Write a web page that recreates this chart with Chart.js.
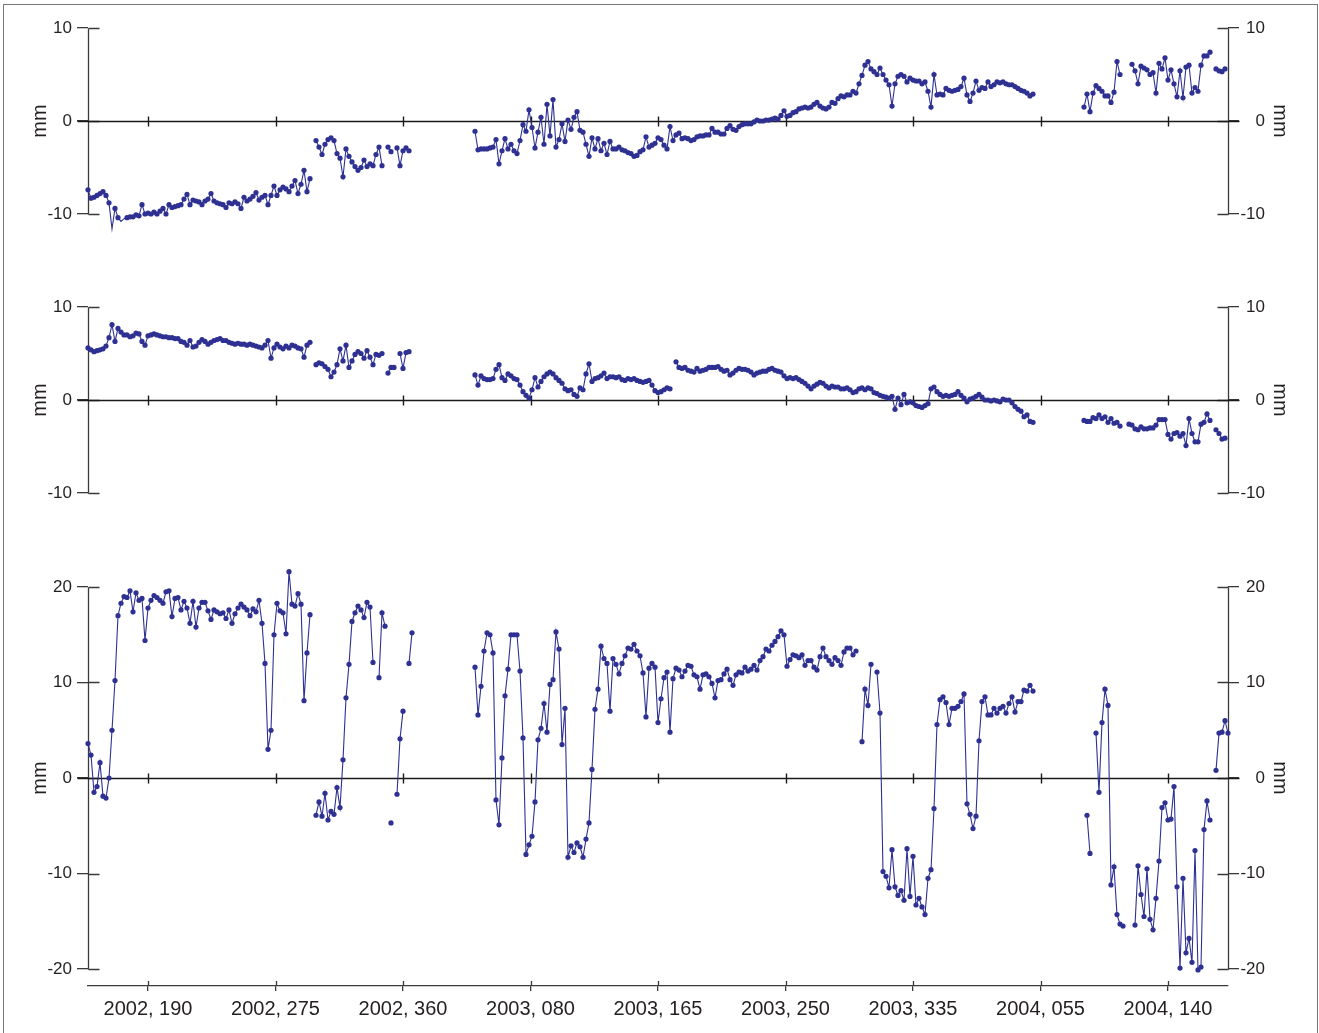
<!DOCTYPE html>
<html>
<head>
<meta charset="utf-8">
<title>Daily coordinate series</title>
<script src="https://cdn.jsdelivr.net/npm/chart.js@4.4.1/dist/chart.umd.min.js"></script>
<style>
  body { margin: 0; background: #fff; overflow: hidden; }
  #frame { position: absolute; left: 3px; top: 4px; width: 1313px; height: 1100px; border: 1px solid #777; }
  canvas { position: absolute; left: 0; }
</style>
</head>
<body>
<div id="frame"></div>
<canvas id="panelTop" width="1319" height="250" style="top:0px"></canvas>
<canvas id="panelMiddle" width="1319" height="250" style="top:270px"></canvas>
<canvas id="panelBottom" width="1319" height="483" style="top:550px"></canvas>
<script>
// Days are counted from the start of 2002 (2003 adds 365, 2004 adds 730).
// One value every second day, null where there is no solution.
var firstDay = 150;
var dayStep = 2;

var xTickDays = [190, 275, 360, 445, 530, 615, 700, 785, 870];
var xTickLabels = ['2002, 190', '2002, 275', '2002, 360', '2003, 080', '2003, 165',
                   '2003, 250', '2003, 335', '2004, 055', '2004, 140'];

var yTicksSmall = [-10, 0, 10];
var yTicksLarge = [-20, -10, 0, 10, 20];

var topValues = [
  -7.4, -8.3, -8.2, -8.0, -7.8, -7.6, -8.0, -8.8, -11.6, -9.4,
  -10.4, -10.8, -10.5, -10.4, -10.3, -10.3, -10.1, -10.2, -9.0, -10.0,
  -9.9, -10.0, -9.8, -10.0, -9.7, -9.4, -10.0, -9.0, -9.3, -9.2,
  -9.1, -9.0, -8.4, -7.9, -9.0, -8.5, -8.6, -8.7, -9.0, -8.6,
  -8.4, -7.8, -8.6, -8.8, -8.9, -9.0, -9.3, -8.8, -8.9, -8.7,
  -8.9, -9.4, -8.2, -8.6, -8.4, -8.1, -7.7, -8.5, -8.2, -8.0,
  -9.0, -8.0, -7.0, -8.0, -7.4, -7.1, -7.3, -7.6, -7.0, -6.4,
  -7.8, -6.8, -5.3, -7.6, -6.2, null, -2.1, -2.8, -3.6, -2.5,
  -2.0, -1.8, -2.1, -3.5, -4.0, -6.0, -3.0, -3.8, -4.4, -4.9,
  -5.3, -5.0, -4.2, -4.9, -4.6, -4.8, -3.6, -2.8, -4.8, null,
  -2.8, -3.3, null, -2.9, -4.8, -3.2, -2.9, -3.2, null, null,
  null, null, null, null, null, null, null, null, null, null,
  null, null, null, null, null, null, null, null, null, -1.1,
  -3.1, -3.0, -3.0, -3.0, -2.9, -2.8, -2.0, -4.6, -3.2, -1.9,
  -3.0, -2.5, -3.2, -3.5, -2.1, -0.4, -1.1, 1.2, -0.7, -2.9,
  -1.2, 0.4, -2.5, 1.8, -1.6, 2.3, -2.8, -2.0, -0.3, -2.2,
  0.1, -0.9, 0.4, 1.0, -1.0, -1.2, -2.5, -3.8, -1.8, -3.0,
  -1.9, -3.2, -2.4, -3.6, -2.2, -3.0, -3.0, -2.8, -3.1, -3.2,
  -3.4, -3.5, -3.8, -3.7, -3.3, -3.1, -1.7, -2.8, -2.6, -2.4,
  -1.8, -2.0, -2.6, -3.0, -0.6, -2.1, -1.5, -1.3, -1.9, -1.8,
  -1.9, -2.1, -2.0, -1.7, -1.6, -1.6, -1.5, -1.5, -0.8, -1.2,
  -1.2, -1.4, -1.4, -0.8, -0.5, -0.9, -1.0, -0.6, -0.4, -0.3,
  -0.3, -0.3, -0.1, 0.1, 0.0, 0.0, 0.1, 0.1, 0.2, 0.3,
  0.2, 0.6, 1.1, 0.5, 0.6, 0.9, 1.0, 1.3, 1.4, 1.5,
  1.4, 1.5, 1.8, 2.0, 1.6, 1.4, 1.3, 1.5, 2.0, 1.9,
  2.4, 2.7, 2.6, 2.8, 2.8, 3.2, 3.0, 4.0, 4.9, 6.0,
  6.4, 5.6, 5.3, 5.0, 5.7, 5.0, 4.4, 3.9, 1.6, 4.0,
  4.8, 5.0, 4.8, 4.2, 4.6, 4.4, 4.3, 4.3, 4.0, 4.2,
  3.2, 1.5, 5.0, 2.8, 2.9, 2.8, 3.5, 3.3, 3.2, 3.3,
  3.4, 3.7, 4.6, 2.8, 2.1, 3.0, 4.3, 3.3, 3.6, 3.5,
  4.2, 3.7, 3.9, 4.2, 4.1, 4.2, 4.0, 3.9, 3.9, 3.7,
  3.5, 3.3, 3.2, 3.0, 2.7, 2.9, null, null, null, null,
  null, null, null, null, null, null, null, null, null, null,
  null, null, 1.5, 2.9, 1.0, 3.0, 3.8, 3.5, 3.2, 2.7,
  2.7, 2.0, 3.1, 6.4, 5.0, null, null, null, 6.1, 5.4,
  4.0, 5.9, 5.7, 5.5, 5.0, 5.2, 3.0, 6.2, 5.6, 6.8,
  4.4, 5.5, 4.0, 2.6, 5.4, 2.5, 5.8, 6.0, 3.0, 3.6,
  3.2, 6.0, 7.0, 7.0, 7.4, null, 5.6, 5.4, 5.3, 5.6,
  null
];

var middleValues = [
  5.6, 5.4, 5.2, 5.3, 5.4, 5.5, 5.8, 6.7, 8.1, 6.3,
  7.7, 7.3, 7.0, 7.0, 6.8, 6.9, 7.2, 7.1, 6.3, 5.9,
  6.9, 7.0, 7.1, 7.0, 6.9, 6.8, 6.8, 6.7, 6.7, 6.6,
  6.6, 6.3, 6.2, 5.9, 6.4, 5.7, 5.8, 6.2, 6.5, 6.3,
  6.0, 6.2, 6.4, 6.5, 6.6, 6.4, 6.4, 6.2, 6.1, 6.0,
  6.1, 6.0, 6.0, 5.9, 6.0, 5.9, 5.8, 5.7, 5.6, 5.9,
  6.4, 4.5, 5.6, 6.0, 5.7, 5.5, 5.8, 5.6, 5.9, 5.8,
  5.6, 5.5, 4.6, 5.9, 6.2, null, 3.8, 4.0, 3.9, 3.6,
  3.3, 2.5, 3.0, 3.8, 5.5, 4.2, 5.9, 3.5, 4.2, 4.9,
  5.2, 5.0, 4.5, 5.3, 4.6, 3.8, 4.9, 4.8, 5.0, null,
  2.9, 3.5, 3.5, null, 5.0, 3.4, 5.1, 5.2, null, null,
  null, null, null, null, null, null, null, null, null, null,
  null, null, null, null, null, null, null, null, null, 2.7,
  1.6, 2.6, 2.3, 2.2, 2.2, 2.3, 3.3, 3.8, 2.4, 2.1,
  2.8, 2.6, 2.3, 2.2, 1.6, 0.9, 0.5, 0.2, 1.1, 2.4,
  1.4, 2.0, 2.5, 2.8, 3.0, 2.8, 2.4, 2.1, 1.8, 1.2,
  1.0, 1.1, 0.6, 0.4, 1.3, 1.1, 2.8, 3.9, 2.0, 2.3,
  2.4, 2.6, 2.9, 2.3, 2.5, 2.5, 2.4, 2.5, 2.2, 2.1,
  2.3, 2.2, 2.3, 2.1, 2.0, 1.9, 2.0, 2.1, 1.6, 1.0,
  0.8, 0.9, 1.1, 1.3, 1.2, null, 4.1, 3.5, 3.4, 3.5,
  3.2, 3.1, 3.0, 3.4, 3.1, 3.2, 3.3, 3.5, 3.5, 3.5,
  3.6, 3.3, 3.1, 3.2, 2.7, 2.9, 3.2, 3.4, 3.3, 3.3,
  3.2, 3.0, 2.7, 2.9, 3.0, 3.1, 3.1, 3.3, 3.4, 3.2,
  3.1, 3.0, 2.6, 2.3, 2.4, 2.3, 2.4, 2.2, 2.0, 1.8,
  1.5, 1.2, 1.5, 1.7, 1.9, 1.8, 1.5, 1.3, 1.5, 1.4,
  1.4, 1.2, 1.2, 1.3, 1.1, 0.8, 0.9, 1.2, 1.3, 1.1,
  1.3, 1.2, 0.8, 0.7, 0.5, 0.4, 0.3, 0.2, 0.4, -1.0,
  0.2, -0.5, 0.6, -0.3, -0.2, -0.3, -0.6, -0.7, -0.8, -0.6,
  -0.4, 1.2, 1.4, 0.9, 0.6, 0.4, 0.5, 0.4, 0.5, 0.6,
  0.9, 0.5, 0.2, -0.2, 0.1, 0.2, 0.4, 0.6, 0.3, 0.0,
  0.0, -0.1, 0.0, -0.1, -0.2, 0.1, 0.0, 0.0, -0.3, -0.7,
  -1.0, -1.2, -1.8, -1.6, -2.3, -2.4, null, null, null, null,
  null, null, null, null, null, null, null, null, null, null,
  null, null, -2.2, -2.3, -2.3, -1.9, -2.0, -1.6, -2.0, -1.8,
  -2.4, -2.0, -2.5, -2.4, -2.8, null, null, -2.6, -2.7, -3.1,
  -3.2, -2.9, -3.1, -3.1, -3.0, -3.0, -2.7, -2.1, -2.1, -2.1,
  -3.7, -4.2, -3.6, -3.5, -3.9, -3.6, -4.9, -2.0, -3.6, -4.5,
  -4.5, -2.6, -2.4, -1.5, -2.2, null, -3.2, -3.6, -4.2, -4.1,
  null
];

var bottomValues = [
  3.6, 2.4, -1.5, -0.9, 1.6, -1.9, -2.1, 0.0, 5.0, 10.2,
  17.0, 18.3, 19.0, 18.9, 19.6, 17.4, 19.4, 18.6, 18.8, 14.4,
  17.8, 18.6, 19.1, 18.9, 18.6, 18.3, 19.5, 19.6, 16.9, 18.8,
  18.9, 17.6, 18.5, 17.8, 16.2, 18.5, 15.8, 17.8, 18.4, 18.4,
  17.5, 16.6, 17.6, 17.4, 17.2, 17.3, 16.7, 17.6, 16.2, 17.2,
  17.8, 18.2, 17.9, 17.6, 17.0, 17.7, 17.4, 18.6, 16.2, 12.0,
  3.0, 5.0, 15.0, 18.3, 17.5, 17.3, 15.1, 21.6, 18.2, 18.0,
  19.3, 18.2, 8.1, 13.1, 17.1, null, -3.9, -2.5, -4.0, -1.6,
  -4.4, -3.5, -3.8, -1.0, -3.1, 1.9, 8.4, 11.9, 16.4, 17.3,
  18.0, 17.6, 16.8, 18.4, 17.9, 12.1, null, 10.5, 17.3, 15.9,
  null, -4.7, null, -1.7, 4.1, 7.0, null, 12.0, 15.2, null,
  null, null, null, null, null, null, null, null, null, null,
  null, null, null, null, null, null, null, null, null, 11.6,
  6.6, 9.6, 13.3, 15.2, 15.0, 13.1, -2.3, -4.9, 2.1, 8.6,
  11.4, 15.0, 15.0, 15.0, 11.2, 4.2, -8.0, -7.0, -6.1, -2.5,
  4.0, 5.2, 7.8, 4.8, 9.8, 10.3, 15.3, 13.5, 3.5, 7.3,
  -8.3, -7.1, -7.8, -6.8, -7.2, -8.3, -6.4, -4.7, 0.9, 7.2,
  9.3, 13.8, 12.5, 12.0, 7.0, 12.5, 11.9, 10.9, 12.0, 12.8,
  13.6, 13.5, 14.0, 13.3, 12.8, 11.0, 6.4, 11.5, 12.0, 11.6,
  5.8, 8.3, 10.5, 11.1, 4.8, 10.4, 11.5, 11.3, 10.6, 11.2,
  11.8, 11.7, 10.8, 10.6, 9.3, 10.8, 10.9, 10.6, 9.9, 8.4,
  10.2, 10.3, 10.9, 11.4, 10.3, 9.7, 10.8, 11.1, 11.0, 11.6,
  11.2, 11.4, 11.8, 11.3, 12.3, 12.7, 13.5, 13.3, 13.9, 14.3,
  14.8, 15.4, 15.0, 11.7, 12.4, 12.9, 12.8, 12.6, 12.9, 11.8,
  12.3, 12.3, 11.6, 11.3, 12.7, 13.6, 12.7, 12.3, 11.9, 12.6,
  12.3, 11.8, 13.2, 13.6, 13.6, 12.9, 13.3, null, 3.8, 9.3,
  7.6, 11.9, null, 11.1, 6.8, -9.8, -10.3, -11.5, -7.5, -11.4,
  -12.3, -11.8, -12.8, -7.4, -12.4, -8.2, -13.3, -12.6, -13.5, -14.3,
  -10.5, -9.6, -3.2, 5.6, 8.2, 8.5, 7.9, 5.6, 7.3, 7.3,
  7.5, 8.0, 8.8, -2.7, -3.8, -5.3, -4.0, 3.9, 8.0, 8.5,
  6.6, 6.6, 7.3, 6.8, 7.3, 7.5, 6.8, 7.8, 8.5, 6.9,
  8.0, 8.0, 9.2, 9.1, 9.7, 9.1, null, null, null, null,
  null, null, null, null, null, null, null, null, null, null,
  null, null, null, -3.9, -7.9, null, 4.7, -1.5, 5.8, 9.3,
  7.6, -11.2, -9.3, -14.3, -15.3, -15.5, null, null, null, -15.4,
  -9.2, -12.2, -14.5, -9.5, -14.8, -15.9, -12.6, -8.7, -3.1, -2.6,
  -4.4, -4.3, -0.9, -11.4, -19.9, -10.5, -18.3, -16.8, -19.3, -7.6,
  -20.1, -19.8, -5.4, -2.4, -4.4, null, 0.8, 4.7, 4.8, 6.0,
  4.7
];

var seriesColor = 'rgb(46, 49, 146)';
var axisColor = '#3a3a3a';
var zeroColor = '#1a1a1a';
var textColor = '#231f20';

Chart.defaults.font.family = "'Liberation Sans', Arial, sans-serif";
Chart.defaults.color = textColor;

// Axis lines, the inner half of the tick marks and the zero line with its date ticks
var axisMarks = {
  id: 'axisMarks',
  beforeDatasetsDraw: function (chart, args, opts) {
    var ctx = chart.ctx;
    var area = chart.chartArea;
    var y = chart.scales.y;
    var x = chart.scales.x;
    var tickValues = y.ticks.map(function (t) { return t.value; });
    var left = Math.round(area.left) + 0.5;
    var right = Math.round(area.right) + 0.5;
    var yTop = Math.round(y.getPixelForValue(tickValues[tickValues.length - 1])) + 0.5;
    var yBottom = Math.round(y.getPixelForValue(tickValues[0])) + 0.5;
    var zero = Math.round(y.getPixelForValue(0)) + 0.5;

    ctx.save();
    ctx.strokeStyle = axisColor;
    ctx.lineWidth = 1.3;
    ctx.beginPath();
    ctx.moveTo(left, yTop); ctx.lineTo(left, yBottom);
    ctx.moveTo(right, yTop); ctx.lineTo(right, yBottom);
    tickValues.forEach(function (v) {
      var py = Math.round(y.getPixelForValue(v)) + 0.5;
      ctx.moveTo(left, py); ctx.lineTo(left + 11, py);
      ctx.moveTo(right - 11, py); ctx.lineTo(right, py);
    });
    if (opts.dateAxis) {
      xTickDays.forEach(function (d) {
        var px = Math.round(x.getPixelForValue(d)) + 0.5;
        ctx.moveTo(px, area.bottom - 5); ctx.lineTo(px, area.bottom);
      });
    }
    ctx.stroke();

    ctx.strokeStyle = zeroColor;
    ctx.lineWidth = 1.4;
    ctx.beginPath();
    ctx.moveTo(left - 11, zero); ctx.lineTo(right + 11, zero);
    xTickDays.forEach(function (d) {
      var px = Math.round(x.getPixelForValue(d)) + 0.5;
      ctx.moveTo(px, zero - 5); ctx.lineTo(px, zero + 5);
    });
    ctx.stroke();
    ctx.restore();
  }
};

function yAxis(side, yTicks, limit) {
  return {
    position: side,
    min: -limit,
    max: limit,
    afterBuildTicks: function (scale) {
      scale.ticks = yTicks.map(function (v) { return { value: v }; });
    },
    afterFit: function (scale) { scale.width = side === 'left' ? 88 : 37; },
    border: { display: false },
    grid: { drawOnChartArea: false, tickLength: 11, color: axisColor, lineWidth: 1.3 },
    ticks: {
      padding: side === 'left' ? 5 : 3,
      crossAlign: side === 'left' ? 'near' : 'far',
      font: { size: 17 },
      callback: function (v) { return String(v); }
    },
    title: {
      display: true,
      text: 'mm',
      font: { size: 20 },
      padding: side === 'left' ? { top: 28, bottom: 0 } : { top: -27, bottom: 0 }
    }
  };
}

function makePanel(canvasId, values, yTicks, limit, padTop, padBottom, showDates) {
  var points = values.map(function (v, i) {
    return { x: firstDay + i * dayStep, y: v };
  });

  return new Chart(document.getElementById(canvasId), {
    type: 'line',
    data: {
      datasets: [{
        data: points,
        borderColor: seriesColor,
        backgroundColor: seriesColor,
        pointBackgroundColor: seriesColor,
        borderWidth: 1.1,
        pointRadius: 2.6,
        pointBorderWidth: 0,
        tension: 0,
        spanGaps: false,
        clip: false
      }]
    },
    options: {
      responsive: false,
      animation: false,
      events: [],
      layout: { padding: { top: padTop, bottom: padBottom, left: 0, right: 54 } },
      plugins: {
        legend: { display: false },
        tooltip: { enabled: false },
        axisMarks: { dateAxis: showDates }
      },
      scales: {
        x: {
          type: 'linear',
          min: 150,
          max: 910,
          display: showDates,
          afterBuildTicks: function (scale) {
            scale.ticks = xTickDays.map(function (d) { return { value: d }; });
          },
          afterFit: function (scale) { scale.height = showDates ? 47 : 0; },
          border: { display: true, color: axisColor, width: 1.3 },
          grid: { drawOnChartArea: false, tickLength: 5, color: axisColor, lineWidth: 1.3 },
          ticks: {
            autoSkip: false,
            maxRotation: 0,
            padding: 6,
            font: { size: 20 },
            callback: function (v) { return xTickLabels[xTickDays.indexOf(v)]; }
          }
        },
        y: yAxis('left', yTicks, limit),
        y2: yAxis('right', yTicks, limit)
      }
    },
    plugins: [axisMarks]
  });
}

makePanel('panelTop', topValues, yTicksSmall, 10, 28, 36, false);
makePanel('panelMiddle', middleValues, yTicksSmall, 10, 37, 27, false);
// bottom panel: range widened so the date axis sits a little below -20
makePanel('panelBottom', bottomValues, yTicksLarge, 21.78, 20, 0, true);
</script>
</body>
</html>
